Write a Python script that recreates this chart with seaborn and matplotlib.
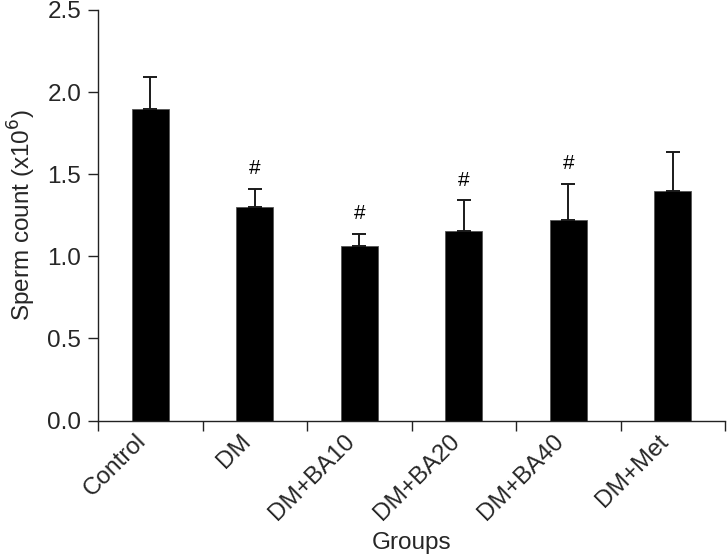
import matplotlib
matplotlib.use("Agg")
import matplotlib.pyplot as plt
import seaborn as sns
import pandas as pd
import numpy as np
from matplotlib.ticker import FormatStrFormatter, FixedLocator
from matplotlib.transforms import ScaledTranslation

groups = ["Control", "DM", "DM+BA10", "DM+BA20", "DM+BA40", "DM+Met"]
means = [1.90, 1.30, 1.065, 1.155, 1.22, 1.395]
sems = [0.19, 0.11, 0.073, 0.187, 0.22, 0.24]
marks = ["", "#", "#", "#", "#", ""]

sns.set_theme(style="ticks")
plt.rcParams['font.family'] = ['Liberation Sans', 'DejaVu Sans']

FS = 17.5
fig = plt.figure(figsize=(7.27, 5.58), dpi=100)
ax = fig.add_axes([98 / 727, (558 - 420.5) / 558, (725 - 98) / 727, (420.5 - 10) / 558])

df = pd.DataFrame({"group": groups, "mean": means})
sns.barplot(data=df, x="group", y="mean", color="black", width=0.35,
            saturation=1, ax=ax, errorbar=None, edgecolor="#555555", linewidth=0.6)

xpos = np.arange(len(groups))
ax.errorbar(xpos, means, yerr=[np.zeros(len(sems)), sems], fmt="none",
            ecolor="#1a1a1a", elinewidth=1.4, capsize=5, capthick=1.4, zorder=3)

for x, m, s, t in zip(xpos, means, sems, marks):
    if t:
        ax.annotate(t, (x, m + s), xytext=(0, 14.5), textcoords="offset points",
                    ha="center", va="center", fontsize=15, color="black")

ax.set_ylim(0, 2.5)
ax.set_xlim(-0.5, len(groups) - 0.5)
ax.yaxis.set_major_locator(FixedLocator([0, 0.5, 1.0, 1.5, 2.0, 2.5]))
ax.yaxis.set_major_formatter(FormatStrFormatter('%.1f'))

ax.set_xticks(xpos)
ax.set_xticklabels(groups, rotation=45, ha="right", fontsize=FS)
shift = ScaledTranslation(10 / 100, 0, fig.dpi_scale_trans)
for lab in ax.get_xticklabels():
    lab.set_transform(lab.get_transform() + shift)
ax.set_xticks(np.arange(-0.5, len(groups), 1.0), minor=True)
ax.tick_params(axis="x", which="major", length=0, pad=7)
ax.tick_params(axis="x", which="minor", length=7, width=1.0, color="#222222", direction="out")
ax.tick_params(axis="y", which="major", length=7, width=1.0, color="#222222", labelsize=FS, pad=5)

for sp in ["top", "right"]:
    ax.spines[sp].set_visible(False)
for sp in ["left", "bottom"]:
    ax.spines[sp].set_color("#222222")
    ax.spines[sp].set_linewidth(1.0)

ax.set_ylabel("Sperm count (x10$^6$)", fontsize=FS, labelpad=7)
ax.set_xlabel("Groups", fontsize=FS, va="top")
ax.xaxis.set_label_coords(0.5, (420.5 - 532) / 410.5)

fig.savefig("out.png", dpi=100, facecolor="white")
